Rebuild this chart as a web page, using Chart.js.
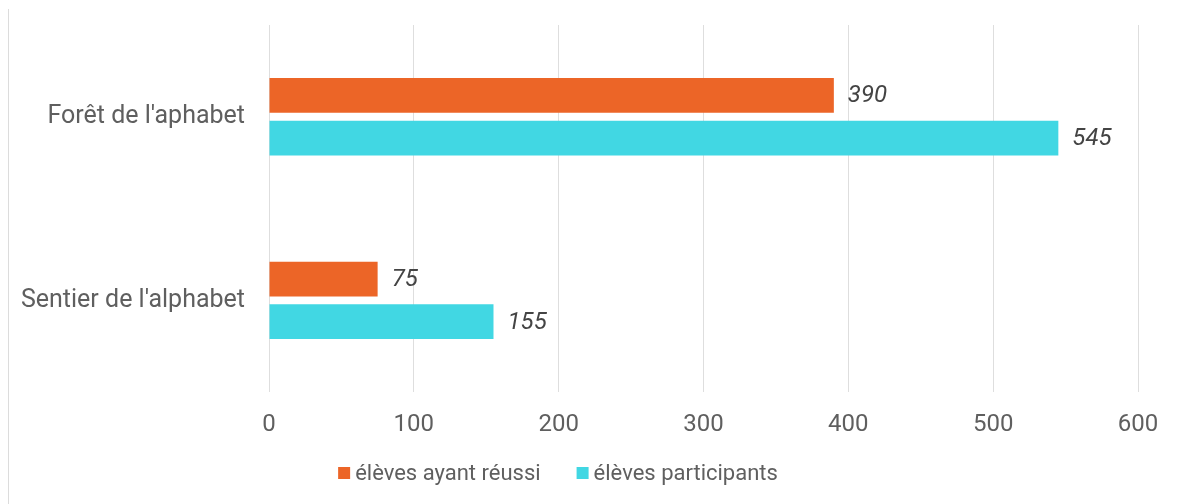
<!DOCTYPE html>
<html>
<head>
<meta charset="utf-8">
<script src="https://cdn.jsdelivr.net/npm/chart.js@4.4.0/dist/chart.umd.min.js"></script>
<style>
  html, body { margin: 0; padding: 0; background: #fff; }
  #wrap { position: relative; width: 1177px; height: 504px; }
  #edge { position: absolute; left: 8px; top: 9px; bottom: 0; border-left: 1px solid #dcdcdc; }
</style>
</head>
<body>
<div id="wrap">
  <div id="edge"></div>
  <canvas id="grafico" width="1177" height="504"></canvas>
</div>
<script>
const categories = ["Forêt de l'aphabet", "Sentier de l'alphabet"];
const reussi = [390, 75];
const participants = [545, 155];
const seriesNames = ["élèves ayant réussi", "élèves participants"];
const seriesColors = ['#ec6527', '#41d7e3'];

const textColor = '#5f5f5f';

// draws the italic value after the end of each bar
const valueLabels = {
    id: 'valueLabels',
    afterDatasetsDraw(chart) {
        const ctx = chart.ctx;
        ctx.save();
        ctx.font = 'italic 24px Roboto';
        ctx.fillStyle = '#444';
        ctx.textBaseline = 'middle';
        ctx.textAlign = 'left';
        chart.data.datasets.forEach((ds, i) => {
            chart.getDatasetMeta(i).data.forEach((bar, j) => {
                ctx.fillText(ds.data[j], bar.x + 14, bar.y + 1);
            });
        });
        ctx.restore();
    }
};

// small legend with square boxes close to the text
const bottomLegend = {
    id: 'bottomLegend',
    afterDraw(chart) {
        const ctx = chart.ctx;
        const box = 12, gap = 5, spacing = 36;
        ctx.save();
        ctx.font = '22px Roboto';
        ctx.textBaseline = 'middle';
        const items = chart.data.datasets.map(ds => ({
            label: ds.label,
            color: ds.backgroundColor,
            w: box + gap + ctx.measureText(ds.label).width
        }));
        const total = items.reduce((s, it) => s + it.w, 0) + spacing * (items.length - 1);
        let x = 558 - total / 2;
        const y = 473;
        items.forEach(it => {
            ctx.fillStyle = it.color;
            ctx.fillRect(x, y - box / 2, box, box);
            ctx.fillStyle = textColor;
            ctx.fillText(it.label, x + box + gap, y + 1);
            x += it.w + spacing;
        });
        ctx.restore();
    }
};

new Chart(document.querySelector('#grafico'), {
    type: 'bar',
    data: {
        labels: categories,
        datasets: [{
            label: seriesNames[0],
            data: reussi,
            backgroundColor: seriesColors[0],
            categoryPercentage: 0.465,
            barPercentage: 0.814
        }, {
            label: seriesNames[1],
            data: participants,
            backgroundColor: seriesColors[1],
            categoryPercentage: 0.465,
            barPercentage: 0.814
        }]
    },
    options: {
        indexAxis: 'y',
        responsive: false,
        animation: false,
        layout: { padding: { top: 25, right: 39, left: 0, bottom: 47 } },
        scales: {
            x: {
                min: 0,
                max: 600,
                ticks: { stepSize: 100, color: textColor, font: { family: 'Roboto', size: 24 }, padding: 18 },
                grid: { color: '#dedede', lineWidth: 1, drawTicks: false },
                border: { display: false }
            },
            y: {
                ticks: { color: textColor, font: { family: 'Roboto', size: 25 }, padding: 24 },
                grid: { display: false, drawTicks: false },
                border: { display: false },
                afterFit(scale) {
                    scale.width = 269;
                    scale.paddingTop = 0;
                    scale.paddingBottom = 0;
                }
            }
        },
        plugins: {
            legend: { display: false },
            tooltip: { enabled: false }
        }
    },
    plugins: [valueLabels, bottomLegend]
});
</script>
</body>
</html>
